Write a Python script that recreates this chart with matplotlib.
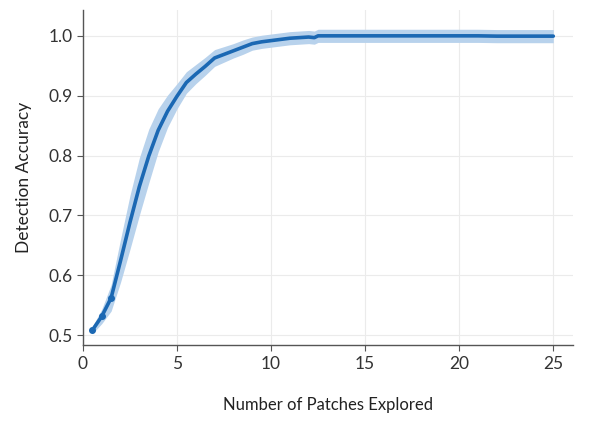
import matplotlib
matplotlib.use("Agg")
import matplotlib.pyplot as plt
import numpy as np

patches = [0.5, 1.0, 1.5, 2.0, 2.5, 3.0, 3.5, 4.0, 4.5, 5.0, 5.5, 6.0, 6.5, 7.0,
           7.5, 8.0, 8.5, 9.0, 9.5, 10.0, 10.5, 11.0, 11.5, 12.0, 12.3, 12.5,
           13.0, 14.0, 15.0, 16.0, 17.0, 18.0, 19.0, 20.0, 21.0, 22.0, 23.0, 24.0, 25.0]
accuracy = [0.508, 0.531, 0.562, 0.624, 0.688, 0.748, 0.799, 0.842, 0.874, 0.899,
            0.922, 0.936, 0.949, 0.963, 0.969, 0.975, 0.981, 0.987, 0.990, 0.992,
            0.994, 0.996, 0.997, 0.998, 0.997, 1.000,
            1.000, 1.000, 1.000, 1.000, 1.000, 1.000, 1.000, 1.000, 1.000, 0.9995, 0.9995, 0.9995, 0.9995]
band = [0.006, 0.012, 0.022, 0.036, 0.045, 0.048, 0.045, 0.036, 0.027, 0.021,
        0.018, 0.016, 0.015, 0.014, 0.013, 0.012, 0.012, 0.011, 0.011, 0.011,
        0.011, 0.011, 0.011, 0.011, 0.011, 0.011,
        0.011, 0.011, 0.011, 0.011, 0.011, 0.011, 0.011, 0.011, 0.011, 0.011, 0.011, 0.011, 0.011]
marker_x = [0.5, 1.0, 1.5]
marker_y = [0.508, 0.531, 0.562]

plt.rcParams['font.family'] = ['Lato', 'DejaVu Sans']

fig = plt.figure(figsize=(5.92, 4.21), dpi=100)
ax = fig.add_axes([0.140, 0.180, 0.828, 0.796])

x = np.array(patches)
y = np.array(accuracy)
b = np.array(band)
ax.fill_between(x, y - b, np.minimum(y + b, 1.011), color='#b8d2ec', lw=0, zorder=2)
ax.plot(x, y, color='#1b68b3', lw=2.6, zorder=3, solid_capstyle='round')
ax.plot(marker_x, marker_y, 'o', color='#1b68b3', ms=4, zorder=4)

ax.set_xlim(0, 26.05)
ax.set_ylim(0.483, 1.043)
ax.set_xticks([0, 5, 10, 15, 20, 25])
ax.set_yticks([0.5, 0.6, 0.7, 0.8, 0.9, 1.0])
ax.set_yticklabels(['0.5', '0.6', '0.7', '0.8', '0.9', '1.0'])
ax.grid(True, color='#ebebeb', lw=0.8)
ax.set_axisbelow(True)
for s in ['top', 'right']:
    ax.spines[s].set_visible(False)
for s in ['left', 'bottom']:
    ax.spines[s].set_color('#555555')
    ax.spines[s].set_linewidth(1.0)
ax.tick_params(axis='both', colors='#555555', labelcolor='#333333', labelsize=12.5, length=4, width=0.8)

ax.set_xlabel('Number of Patches Explored', fontsize=12, color='#222222', labelpad=18)
ax.set_ylabel('Detection Accuracy', fontsize=12.5, color='#222222', labelpad=12)

fig.savefig('out.png', dpi=100, facecolor='white')
